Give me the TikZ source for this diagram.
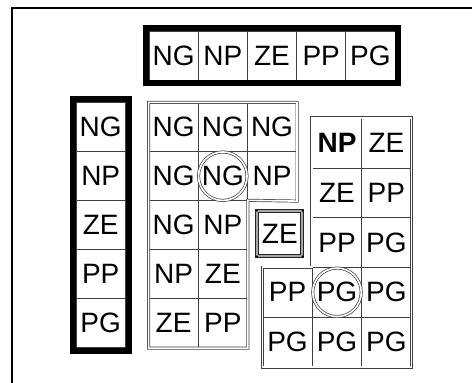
\documentclass[tikz,border=0pt]{standalone}
\usepackage{fontspec}
\setmainfont{Liberation Sans}
\usetikzlibrary{calc}
\newcommand{\cellfont}{\fontsize{28pt}{32pt}\selectfont}
\begin{document}
\begin{tikzpicture}[x=1pt,y=-1pt,
  lbl/.style={font=\cellfont, text=black},
  cell/.style={lbl, draw=black!75, line width=0.8pt, inner sep=0pt,
    minimum width=49.2pt, minimum height=49pt},
  rcell/.style={cell, minimum width=49.5pt, minimum height=49.7pt},
  heavy/.style={draw=black, line width=6pt, line join=miter},
  twin/.style={draw=black!75, double=white, double distance=1.6pt, line width=0.7pt},
  ring/.style={twin, circle, inner sep=0pt, minimum size=48.5pt},
  zebox/.style={lbl, draw=black!85, double=black!35, double distance=2.2pt,
    line width=0.8pt, inner sep=0pt, minimum size=45pt},
  joint/.style={fill=black, inner sep=0pt, circle, minimum size=2.4pt}]
\useasboundingbox (0,0) rectangle (472,383);
\fill[white] (0,0) rectangle (472,383);
% frame
\draw[line width=2pt] (12,384) -- (12,7.5) -- (473,7.5);

% top row of labels
\node[cell] (t1) at (173.6,55.5) {NG};
\node[cell] (t2) at (222.8,55.5) {NP};
\node[cell] (t3) at (272.0,55.5) {ZE};
\node[cell] (t4) at (321.2,55.5) {PP};
\node[cell] (t5) at (370.4,55.5) {PG};
\draw[heavy] ($(t1.north west)+(-3pt,3pt)$) rectangle ($(t5.south east)+(3pt,-3pt)$);

% left column of labels
\node[cell] (l1) at (100.7,127.2) {NG};
\node[cell] (l2) at (100.7,176.2) {NP};
\node[cell] (l3) at (100.7,225.2) {ZE};
\node[cell] (l4) at (100.7,274.2) {PP};
\node[cell] (l5) at (100.7,323.2) {PG};
\draw[heavy] ($(l1.north west)+(-3pt,3pt)$) rectangle ($(l5.south east)+(3pt,-3pt)$);

% middle block
\node[cell] (m11) at (173.6,127.2) {NG};
\node[cell] (m12) at (222.8,127.2) {NG};
\node[cell] (m13) at (272.0,127.2) {NG};
\node[cell] (m21) at (173.6,176.2) {NG};
\node[cell] (m22) at (222.8,176.2) {NG};
\node[cell] (m23) at (272.0,176.2) {NP};
\node[cell] (m31) at (173.6,225.2) {NG};
\node[cell] (m32) at (222.8,225.2) {NP};
\node[cell] (m41) at (173.6,274.2) {NP};
\node[cell] (m42) at (222.8,274.2) {ZE};
\node[cell] (m51) at (173.6,323.2) {ZE};
\node[cell] (m52) at (222.8,323.2) {PP};
\draw[twin] (m11.north west) -- (m13.north east) -- (m23.south east)
  -- (m32.north east) -- (m52.south east) -- (m51.south west) -- cycle;
\node[ring] (c1) at (m22) {};

% right block
\node[rcell] (r12) at (337.0,143.2) {\bfseries NP};
\node[rcell] (r13) at (386.4,143.2) {ZE};
\node[rcell] (r22) at (337.0,192.9) {ZE};
\node[rcell] (r23) at (386.4,192.9) {PP};
\node[rcell] (r32) at (337.0,242.6) {PP};
\node[rcell] (r33) at (386.4,242.6) {PG};
\node[rcell] (r41) at (287.5,292.3) {PP};
\node[rcell] (r42) at (337.0,292.3) {PG};
\node[rcell] (r43) at (386.4,292.3) {PG};
\node[rcell] (r51) at (287.5,342.0) {PG};
\node[rcell] (r52) at (337.0,342.0) {PG};
\node[rcell] (r53) at (386.4,342.0) {PG};
\draw[twin] (r12.north west) -- (r13.north east) -- (r53.south east)
  -- (r51.south west) -- (r41.north west) -- (r42.north west) -- cycle;
\node[ring] (c2) at (r42) {};

% single ZE box
\node[zebox] (z) at (279.8,233.5) {ZE};
\foreach \a in {north west,north east,south west,south east}
  \node[joint] at (z.\a) {};
\end{tikzpicture}
\end{document}
